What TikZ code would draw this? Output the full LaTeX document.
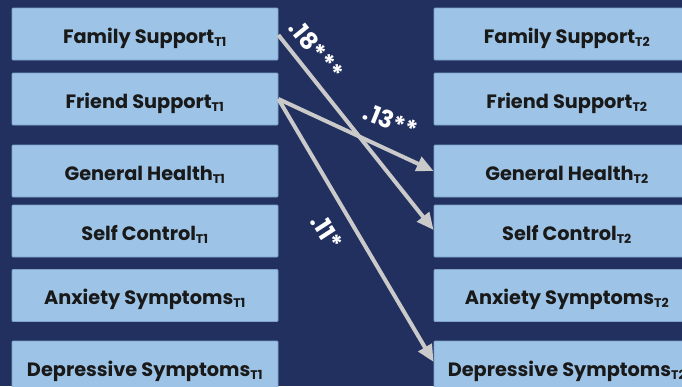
\documentclass[tikz,border=0pt]{standalone}
\usepackage{fontspec}
\setmainfont{Poppins}
\usetikzlibrary{arrows.meta,calc}
\definecolor{navy}{HTML}{21305E}
\definecolor{boxblue}{HTML}{9DC3E6}
\definecolor{boxedge}{HTML}{7FA3CC}
\definecolor{arrowgray}{HTML}{CACACA}
\tikzset{
  var/.style={draw=boxedge, line width=0.8pt, fill=boxblue, minimum width=266pt, minimum height=52pt,
    inner sep=0pt, rounded corners=1pt, text height=18pt, text depth=0pt,
    font=\fontsize{19.3}{21}\selectfont\bfseries, text=black!90},
  path/.style={draw=arrowgray, line width=4pt, -{Triangle[length=17pt,width=15pt]}},
  lbl/.style={text=white, font=\fontsize{24}{26}\selectfont\bfseries, inner sep=0pt}
}
\newcommand{\tsub}[1]{\textsubscript{\fontsize{12.5}{14}\selectfont\bfseries #1}}
\begin{document}
\begin{tikzpicture}[x=1pt,y=-1pt]
\fill[navy] (0,0) rectangle (682,386);
\useasboundingbox (0,0) rectangle (682,386);
% left column
\node[var] (fs1) at (145,34) {Family Support\tsub{T1}};
\node[var] (fr1) at (145,99) {Friend Support\tsub{T1}};
\node[var] (gh1) at (145,171) {General Health\tsub{T1}};
\node[var] (sc1) at (145,231) {Self Control\tsub{T1}};
\node[var] (an1) at (145,295.5) {Anxiety Symptoms\tsub{T1}};
\node[var] (dp1) at (145,367) {Depressive Symptoms\tsub{T1}};
% right column
\node[var] (fs2) at (567,34) {Family Support\tsub{T2}};
\node[var] (fr2) at (567,99) {Friend Support\tsub{T2}};
\node[var] (gh2) at (567,171) {General Health\tsub{T2}};
\node[var] (sc2) at (567,231) {Self Control\tsub{T2}};
\node[var] (an2) at (567,295.5) {Anxiety Symptoms\tsub{T2}};
\node[var] (dp2) at (567,367) {Depressive Symptoms\tsub{T2}};
% paths
\draw[path] ($(fs1.east)+(0,1)$) -- ($(sc2.west)+(0,-1)$);
\draw[path] (fr1.east) -- (gh2.west);
\draw[path] (fr1.east) -- ($(dp2.west)+(0,-5)$);
% labels
\node[lbl, rotate=-51] (l18) at (316,50) {.18***};
\node[lbl, rotate=-22] (l13) at (391,121) {.13**};
\node[lbl, rotate=-57] (l11) at (327,232) {.11*};
\end{tikzpicture}
\end{document}
